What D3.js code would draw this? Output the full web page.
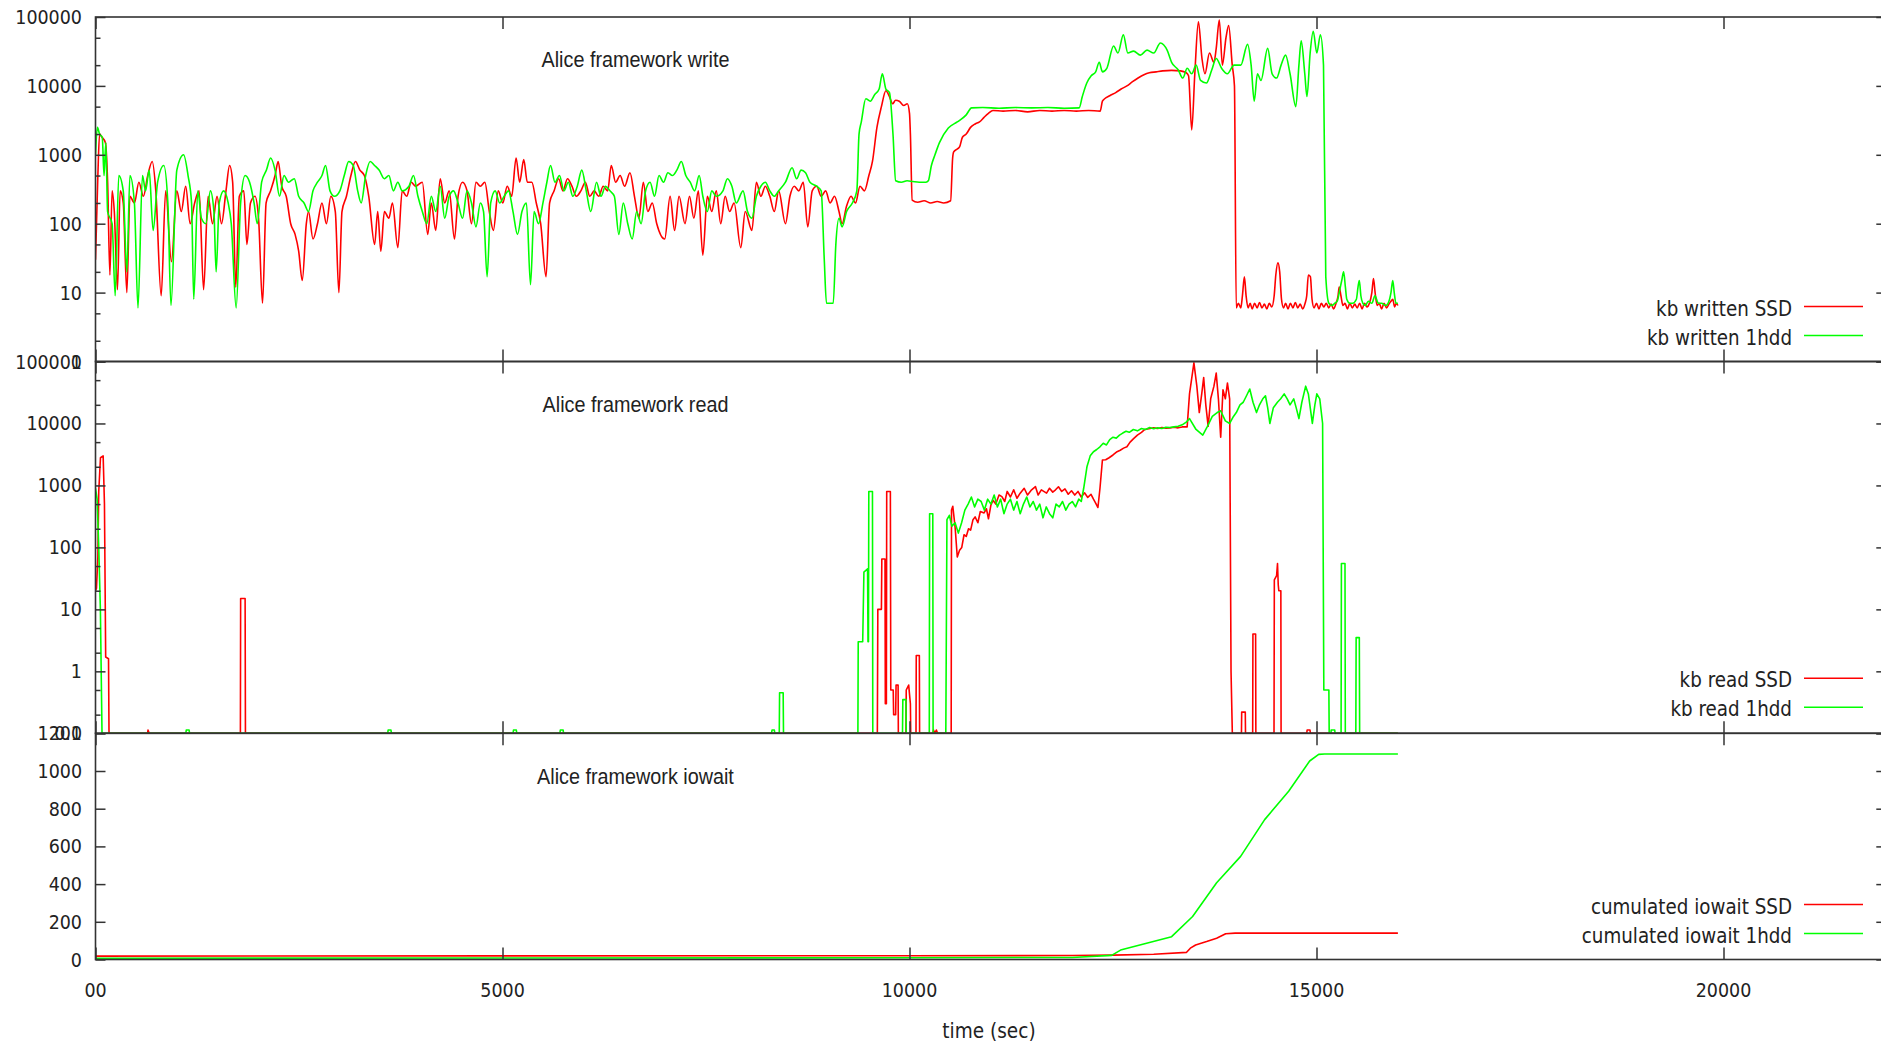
<!DOCTYPE html>
<html><head><meta charset="utf-8">
<script src="https://cdn.jsdelivr.net/npm/d3@7"></script>
<style>html,body{margin:0;padding:0;background:#fff;overflow:hidden}</style>
</head><body>
<svg id="c" width="1881" height="1042"></svg>
<script>
// ---------------- DATA ----------------
const titles = ["Alice framework write", "Alice framework read", "Alice framework iowait"];
const seriesNames = [
  ["kb written SSD", "kb written 1hdd"],
  ["kb read SSD", "kb read 1hdd"],
  ["cumulated iowait SSD", "cumulated iowait 1hdd"]
];
const xLabel = "time (sec)";
const xDomain = [0, 22000];
const xTicks = [0, 5000, 10000, 15000, 20000];
const xTickLabels = ["00", "5000", "10000", "15000", "20000"];
const writeDomain = [1, 100000];
const writeTicks = [1, 10, 100, 1000, 10000, 100000];
const writeTickLabels = ["1", "10", "100", "1000", "10000", "100000"];
const readDomain = [0.1, 100000];
const readTicks = [0.1, 1, 10, 100, 1000, 10000, 100000];
const readTickLabels = ["0.1", "1", "10", "100", "1000", "10000", "100000"];
const iowaitDomain = [0, 1200];
const iowaitTicks = [0, 200, 400, 600, 800, 1000, 1200];
const iowaitTickLabels = ["0", "200", "400", "600", "800", "1000", "1200"];

// kb written SSD  [time, value]
const writeSSD = [[0,30],[29,500],[50,2000],[80,1800],[122,1500],[149,400],[177,18],[204,300],[231,150],[270,11],[303,300],[341,200],[385,10],[423,250],[478,200],[533,400],[588,250],[642,500],[697,800],[741,300],[807,9],[862,300],[933,28],[999,300],[1054,150],[1108,350],[1163,100],[1218,200],[1273,300],[1328,11],[1383,250],[1438,100],[1493,250],[1548,100],[1603,300],[1647,700],[1685,400],[1723,12],[1767,250],[1822,300],[1860,50],[1904,200],[1959,250],[2003,120],[2052,7],[2096,200],[2151,300],[2206,500],[2244,800],[2288,350],[2343,250],[2398,100],[2452,70],[2496,40],[2540,15],[2590,100],[2617,150],[2672,60],[2727,100],[2782,200],[2837,100],[2891,250],[2946,150],[2990,10],[3028,150],[3083,250],[3138,500],[3193,800],[3248,600],[3303,500],[3357,250],[3429,50],[3467,150],[3505,40],[3549,150],[3604,120],[3648,200],[3714,45],[3768,300],[3823,250],[3878,400],[3933,350],[4015,400],[4081,70],[4125,200],[4180,80],[4235,450],[4290,200],[4345,300],[4410,60],[4454,250],[4509,400],[4564,300],[4619,100],[4674,400],[4728,350],[4783,400],[4838,150],[4888,80],[4948,300],[5003,200],[5058,350],[5113,250],[5167,900],[5211,400],[5261,850],[5305,400],[5360,400],[5415,200],[5469,100],[5535,17],[5579,200],[5634,300],[5689,450],[5743,300],[5798,450],[5853,350],[5908,250],[5963,300],[6018,400],[6072,250],[6127,300],[6182,250],[6237,350],[6292,300],[6336,700],[6390,400],[6445,500],[6500,350],[6566,550],[6621,250],[6676,120],[6730,400],[6785,150],[6840,200],[6895,100],[6993,60],[7059,250],[7114,80],[7169,250],[7242,100],[7297,250],[7351,120],[7406,300],[7461,35],[7516,250],[7571,150],[7626,300],[7681,100],[7735,250],[7790,150],[7845,200],[7927,45],[7982,150],[8064,80],[8119,400],[8174,250],[8229,350],[8284,250],[8339,150],[8393,300],[8476,100],[8531,250],[8585,350],[8640,300],[8695,400],[8750,90],[8805,300],[8860,350],[8915,250],[8970,300],[9024,200],[9079,250],[9134,150],[9172,100],[9227,180],[9282,250],[9337,200],[9392,350],[9446,300],[9501,500],[9545,800],[9600,2500],[9655,5000],[9710,8500],[9754,7000],[9792,5500],[9830,6200],[9874,6000],[9929,5200],[9973,5500],[10000,4000],[10011,2000],[10033,220],[10100,205],[10180,215],[10260,200],[10340,210],[10420,200],[10505,215],[10530,900],[10543,1100],[10580,1200],[10615,1300],[10650,1800],[10697,2000],[10750,2500],[10806,2800],[10860,3000],[10916,3500],[10970,4000],[11025,4400],[11150,4300],[11300,4400],[11450,4200],[11600,4400],[11750,4300],[11900,4400],[12050,4300],[12200,4400],[12342,4300],[12370,6000],[12397,6500],[12460,7200],[12534,8000],[12600,9000],[12671,10000],[12740,11500],[12808,13000],[12880,14500],[12946,15500],[13030,16000],[13111,16500],[13220,16800],[13330,16500],[13400,15500],[13428,14000],[13467,2300],[13505,15000],[13549,85000],[13593,25000],[13630,15000],[13685,30000],[13740,22000],[13768,35000],[13806,90000],[13844,20000],[13888,50000],[13921,75000],[13965,20000],[13992,10000],[14014,6],[14040,7],[14070,6],[14090,9],[14114,17],[14135,9],[14160,6],[14185,7],[14210,5.8],[14240,7],[14270,6],[14300,7.2],[14330,6],[14360,6.8],[14390,5.8],[14420,7],[14450,6.2],[14480,9],[14500,18],[14526,27],[14548,20],[14570,8],[14595,6],[14620,7],[14650,5.8],[14680,7],[14710,6],[14740,7.2],[14770,6],[14800,6.8],[14830,5.8],[14860,7],[14880,9],[14900,18],[14925,17],[14945,8],[14970,6],[15000,7],[15030,5.8],[15060,7],[15090,6.2],[15120,7],[15150,6],[15180,6.8],[15210,5.8],[15240,7],[15265,9],[15279,12],[15300,9],[15325,6.5],[15350,7],[15380,5.8],[15410,7],[15440,6],[15470,6.8],[15500,6],[15530,7],[15560,5.8],[15590,7],[15620,6.2],[15650,7],[15680,10],[15700,16],[15720,10],[15745,6.5],[15770,7],[15800,5.8],[15830,7],[15860,6],[15890,6.8],[15915,7.5],[15937,8],[15960,6.2],[15980,7],[16000,6.5]];

// kb written 1hdd
const write1hdd = [[0,1000],[23,2500],[50,2000],[83,1800],[105,500],[127,1500],[149,150],[204,100],[242,9],[286,500],[341,300],[385,20],[423,500],[478,200],[522,6],[577,500],[615,300],[659,600],[708,80],[763,400],[839,700],[889,200],[927,6.5],[999,600],[1082,1000],[1137,500],[1180,200],[1207,8],[1257,300],[1301,120],[1356,100],[1411,300],[1455,150],[1482,20],[1520,200],[1575,300],[1630,200],[1668,100],[1728,6],[1783,200],[1838,500],[1893,400],[1948,200],[1987,100],[2041,400],[2100,600],[2151,900],[2206,600],[2261,250],[2316,500],[2371,400],[2442,450],[2496,250],[2562,200],[2617,150],[2672,300],[2727,400],[2782,500],[2826,700],[2881,300],[2936,250],[3002,300],[3056,500],[3111,800],[3166,700],[3221,300],[3264,200],[3319,500],[3374,800],[3429,700],[3484,600],[3549,450],[3604,500],[3659,300],[3714,400],[3768,300],[3851,350],[3906,500],[3961,250],[4015,150],[4070,100],[4125,250],[4180,150],[4235,350],[4290,120],[4345,250],[4399,300],[4454,200],[4509,120],[4564,300],[4619,200],[4674,90],[4728,200],[4767,150],[4811,17],[4855,200],[4910,300],[4965,200],[5020,250],[5074,300],[5129,150],[5184,70],[5239,150],[5294,200],[5344,13],[5388,150],[5442,100],[5497,200],[5545,400],[5590,700],[5645,400],[5700,500],[5755,300],[5809,400],[5864,250],[5919,350],[5974,600],[6029,300],[6084,150],[6155,400],[6210,250],[6265,350],[6319,300],[6374,250],[6429,70],[6484,200],[6539,100],[6594,60],[6648,150],[6703,100],[6758,300],[6813,400],[6868,250],[6923,500],[6978,400],[7032,550],[7087,500],[7142,600],[7197,800],[7252,500],[7306,400],[7361,300],[7416,500],[7461,250],[7516,150],[7571,300],[7626,250],[7708,300],[7763,450],[7818,350],[7872,200],[7955,300],[8010,150],[8064,120],[8119,250],[8174,350],[8229,400],[8284,300],[8339,250],[8393,300],[8476,400],[8558,650],[8613,450],[8668,600],[8723,550],[8777,400],[8860,350],[8915,300],[8953,30],[8980,7],[9063,7],[9095,50],[9134,120],[9172,90],[9227,150],[9298,200],[9353,300],[9380,2000],[9408,3000],[9463,6500],[9518,6000],[9573,7500],[9627,9000],[9666,15000],[9710,9000],[9754,8000],[9797,2000],[9830,420],[9900,400],[9970,420],[10039,410],[10120,400],[10203,400],[10231,420],[10269,700],[10313,1000],[10368,1500],[10477,2450],[10587,3000],[10697,3800],[10763,4800],[10900,4850],[11100,4750],[11300,4850],[11500,4800],[11700,4850],[11900,4750],[12084,4800],[12123,7000],[12178,11000],[12232,14000],[12287,16000],[12331,22000],[12370,16000],[12424,18000],[12507,38000],[12561,30000],[12627,55000],[12682,30000],[12753,32000],[12836,28000],[12918,33000],[13000,30000],[13082,42000],[13165,33000],[13220,22000],[13302,17000],[13357,13000],[13412,18000],[13467,15000],[13521,20000],[13576,12000],[13647,11000],[13713,17000],[13768,25000],[13834,18000],[13905,15000],[13987,20000],[14070,20000],[14153,40000],[14197,20000],[14235,6000],[14274,15000],[14318,12000],[14400,35000],[14455,15000],[14510,13000],[14565,20000],[14620,28000],[14675,15000],[14746,5000],[14784,20000],[14812,45000],[14856,15000],[14883,7000],[14922,30000],[14960,62000],[15004,30000],[15048,55000],[15086,20000],[15114,17],[15152,7],[15190,6.5],[15224,7],[15255,7.5],[15279,10],[15310,15],[15333,20],[15355,12],[15372,8],[15410,7],[15443,7],[15490,8],[15510,12],[15526,15],[15545,9],[15570,7],[15600,6.5],[15636,7.5],[15680,7],[15718,9],[15760,7],[15800,7],[15850,6.5],[15890,7.5],[15915,10],[15937,15],[15955,10],[15976,7],[16000,7]];

// kb read SSD
const readSSD = [[0,20],[12,22],[29,70],[40,800],[61,2800],[94,3000],[110,500],[125,1.7],[160,1.6],[166,0],[640,0],[645,0.113],[660,0],[1780,0],[1783,15],[1838,15],[1842,0],[9605,0],[9611,10],[9655,10],[9660,65],[9699,65],[9703,0.3],[9716,0.3],[9720,800],[9765,800],[9770,0.5],[9800,0.5],[9805,0.2],[9830,0.2],[9835,0.6],[9860,0.6],[9863,0],[9956,0],[9960,0.5],[9990,0.6],[10011,0.3],[10015,0],[10080,0],[10083,1.8],[10121,1.8],[10124,0],[10290,0],[10295,0.113],[10310,0],[10330,0.113],[10345,0],[10512,0],[10516,400],[10532,460],[10560,215],[10587,70],[10615,90],[10642,100],[10670,160],[10697,150],[10725,200],[10751,190],[10780,280],[10806,310],[10840,250],[10870,380],[10916,360],[10945,420],[10970,290],[11000,480],[11025,575],[11060,500],[11100,700],[11135,660],[11170,550],[11200,800],[11240,650],[11280,850],[11320,620],[11360,750],[11409,900],[11450,700],[11500,850],[11547,960],[11580,700],[11620,850],[11684,750],[11720,900],[11760,780],[11794,850],[11830,950],[11870,800],[11910,880],[11950,720],[11990,820],[12030,700],[12070,800],[12110,650],[12150,760],[12190,640],[12230,720],[12260,600],[12287,520],[12315,440],[12340,900],[12370,2570],[12410,2600],[12452,2800],[12500,3100],[12550,3500],[12589,3700],[12630,4000],[12671,4200],[12710,5000],[12753,5700],[12800,6500],[12850,7200],[12891,8000],[12940,8200],[13000,8500],[13050,8300],[13100,8600],[13150,8400],[13200,8500],[13250,8700],[13300,8500],[13350,8800],[13411,8800],[13440,30000],[13494,95000],[13530,40000],[13560,15000],[13590,30000],[13614,55000],[13640,20000],[13669,9000],[13700,25000],[13740,40000],[13768,65000],[13795,25000],[13823,6000],[13851,35000],[13880,25000],[13906,45000],[13933,25000],[13950,1],[13966,0],[14078,0],[14081,0.22],[14125,0.22],[14128,0],[14216,0],[14219,4],[14252,4],[14255,0],[14478,0],[14482,30],[14510,35],[14521,55],[14530,25],[14537,20],[14562,20],[14565,0],[14880,0],[14885,0.113],[14920,0.113],[14925,0],[16000,0]];

// kb read 1hdd
const read1hdd = [[0,900],[20,600],[40,100],[60,10],[80,0],[1110,0],[1115,0.113],[1150,0.113],[1155,0],[3590,0],[3595,0.113],[3630,0.113],[3635,0],[5130,0],[5135,0.113],[5170,0.113],[5175,0],[5705,0],[5710,0.113],[5745,0.113],[5750,0],[8305,0],[8311,0.113],[8340,0.113],[8345,0],[8400,0],[8404,0.45],[8448,0.45],[8452,0],[9366,0],[9370,3],[9425,3],[9440,40],[9485,45],[9490,3],[9496,3],[9500,800],[9545,800],[9549,0],[9914,0],[9918,0.35],[9956,0.35],[9960,0],[10243,0],[10247,350],[10286,350],[10290,0],[10446,0],[10460,280],[10490,330],[10520,220],[10560,250],[10600,170],[10640,250],[10680,400],[10720,500],[10760,650],[10800,450],[10840,600],[10880,550],[10920,400],[10960,600],[11000,500],[11040,700],[11080,450],[11120,600],[11160,350],[11200,500],[11240,600],[11280,400],[11320,550],[11360,350],[11400,500],[11440,650],[11480,450],[11520,550],[11560,400],[11600,500],[11640,300],[11680,450],[11720,350],[11760,300],[11800,500],[11840,450],[11880,550],[11920,400],[11960,500],[12000,550],[12040,450],[12080,600],[12110,550],[12140,900],[12180,2000],[12220,3000],[12260,3500],[12300,3800],[12340,4200],[12380,4800],[12420,4500],[12460,5500],[12500,6000],[12540,5800],[12580,6500],[12620,7000],[12660,7500],[12700,7200],[12750,8000],[12800,7600],[12850,8300],[12900,8000],[12950,8600],[13000,8200],[13050,8500],[13100,8300],[13150,8700],[13200,8600],[13250,8800],[13300,9000],[13350,9500],[13400,10500],[13440,12000],[13520,8000],[13603,6500],[13660,9000],[13720,13000],[13780,15000],[13823,16000],[13880,11000],[13933,10000],[13980,13000],[14015,15000],[14060,20000],[14100,22000],[14140,28000],[14180,36000],[14220,22000],[14263,15000],[14300,20000],[14340,25000],[14373,28000],[14400,18000],[14427,10000],[14470,18000],[14520,22000],[14560,25000],[14603,30000],[14640,25000],[14675,20000],[14720,25000],[14750,18000],[14784,12000],[14820,22000],[14867,40000],[14900,30000],[14949,10000],[14980,20000],[15004,30000],[15040,25000],[15075,10000],[15090,0.5],[15152,0.5],[15156,0],[15178,0],[15180,0.113],[15224,0.113],[15228,0],[15302,0],[15306,55],[15350,55],[15354,0],[15483,0],[15487,3.5],[15526,3.5],[15530,0],[16000,0]];

// cumulated iowait
const iowaitSSD = [[0,18],[5000,19],[10000,20],[12000,21],[12500,23],[13000,28],[13404,38],[13450,60],[13515,77],[13650,95],[13773,113],[13884,137],[14000,140],[16000,140]];
const iowait1hdd = [[0,7],[10000,9],[12000,11],[12483,22],[12593,50],[13220,121],[13478,228],[13773,407],[14068,547],[14363,742],[14658,893],[14916,1053],[15027,1088],[15100,1090],[16000,1090]];

// ---------------- DRAW ----------------
const svg = d3.select("#c");
svg.append("rect").attr("width",1881).attr("height",1042).attr("fill","#fff");
const RED = "#ff0000", GREEN = "#00ff00", INK = "#222";
const FONT = "'DejaVu Sans', sans-serif";
const x = d3.scaleLinear().domain(xDomain).range([95.5, 95.5 + 22000*0.0814]);

const panels = [
  {top:17, bottom:361.5, y:d3.scaleLog().domain(writeDomain).range([361.5,17]).clamp(true), log:true, curve:d3.curveMonotoneX,
   ticks:writeTicks, labels:writeTickLabels, data:[writeSSD, write1hdd], title:titles[0], names:seriesNames[0]},
  {top:361.5, bottom:733.3, y:d3.scaleLog().domain(readDomain).range([733.3,361.5]).clamp(true), log:true, curve:d3.curveLinear,
   ticks:readTicks, labels:readTickLabels, data:[readSSD, read1hdd], title:titles[1], names:seriesNames[1]},
  {top:733.3, bottom:959.5, y:d3.scaleLinear().domain(iowaitDomain).range([959.5,733.3]), log:false, curve:d3.curveLinear,
   ticks:iowaitTicks, labels:iowaitTickLabels, data:[iowaitSSD, iowait1hdd], title:titles[2], names:seriesNames[2]}
];

function txt(g, px, py, s, o) {
  return g.append("text")
    .attr("transform", `translate(${px},${py}) scale(${o.sx||1},${o.sy||1})`)
    .attr("font-family", o.family || FONT)
    .attr("font-size", o.size)
    .attr("text-anchor", o.anchor || "start")
    .attr("fill", INK)
    .text(s);
}

const defs = svg.append("defs");
panels.forEach((p, i) => {
  defs.append("clipPath").attr("id","clip"+i).append("rect")
    .attr("x", x.range()[0]).attr("y", p.top)
    .attr("width", x.range()[1]-x.range()[0]).attr("height", p.bottom-p.top);
});

// data lines
panels.forEach((p, i) => {
  const lo = p.y.domain()[0];
  const line = d3.line()
    .curve(p.curve)
    .x(d => x(d[0]))
    .y(d => p.y(p.log ? Math.max(d[1], lo) : d[1]));
  const g = svg.append("g").attr("clip-path", `url(#clip${i})`);
  [RED, GREEN].forEach((c, k) => {
    g.append("path").datum(p.data[k]).attr("d", line)
      .attr("fill","none").attr("stroke", c).attr("stroke-width", 1.6)
      .attr("stroke-linejoin","round");
  });
});

// axes, ticks, borders
panels.forEach((p, i) => {
  const g = svg.append("g");
  g.append("g").attr("transform", `translate(${x.range()[0]},0)`)
    .call(d3.axisLeft(p.y).tickValues(p.ticks).tickSize(-10).tickFormat(""));
  g.append("g").attr("transform", `translate(${x.range()[1]},0)`)
    .call(d3.axisRight(p.y).tickValues(p.ticks).tickSize(-10).tickFormat(""));
  if (p.log) {
    const minors = [];
    p.ticks.slice(0,-1).forEach(t => { minors.push(t*2, t*5); });
    g.append("g").attr("transform", `translate(${x.range()[0]},0)`)
      .call(d3.axisLeft(p.y).tickValues(minors).tickSize(-5).tickFormat(""));
    g.append("g").attr("transform", `translate(${x.range()[1]},0)`)
      .call(d3.axisRight(p.y).tickValues(minors).tickSize(-5).tickFormat(""));
  }
  g.append("g").attr("transform", `translate(0,${p.bottom})`)
    .call(d3.axisBottom(x).tickValues(xTicks).tickSize(-12).tickFormat(""));
  g.append("g").attr("transform", `translate(0,${p.top})`)
    .call(d3.axisTop(x).tickValues(xTicks).tickSize(-12).tickFormat(""));
  g.selectAll(".domain").remove();
  g.selectAll(".tick line").attr("stroke", "#333").attr("stroke-width", 1.5);

  g.append("rect").attr("x", x.range()[0]).attr("y", p.top)
    .attr("width", x.range()[1]-x.range()[0]).attr("height", p.bottom-p.top)
    .attr("fill","none").attr("stroke","#333").attr("stroke-width",1.6);

  p.ticks.forEach((t, k) => {
    txt(svg, 82, p.y(t) + 7, p.labels[k], {size:17.5, anchor:"end", sy:1.1});
  });

  txt(svg, 635.5, p.top + 50.3, p.title, {size:22, anchor:"middle", sx:0.9, family:"'Liberation Sans', Arial, sans-serif"});

  const rows = [p.bottom - 55, p.bottom - 26];
  rows.forEach((ry, k) => {
    txt(svg, 1792, ry + 9, p.names[k], {size:18.3, anchor:"end", sy:1.15});
    svg.append("line").attr("x1",1804).attr("x2",1863).attr("y1",ry).attr("y2",ry)
      .attr("stroke", k===0 ? RED : GREEN).attr("stroke-width",1.5);
  });
});

xTicks.forEach((t, k) => {
  txt(svg, x(t), 996.5, xTickLabels[k], {size:17.5, anchor:"middle", sy:1.1});
});
txt(svg, 989, 1037.5, xLabel, {size:18.5, anchor:"middle", sy:1.1});
</script>
</body></html>
